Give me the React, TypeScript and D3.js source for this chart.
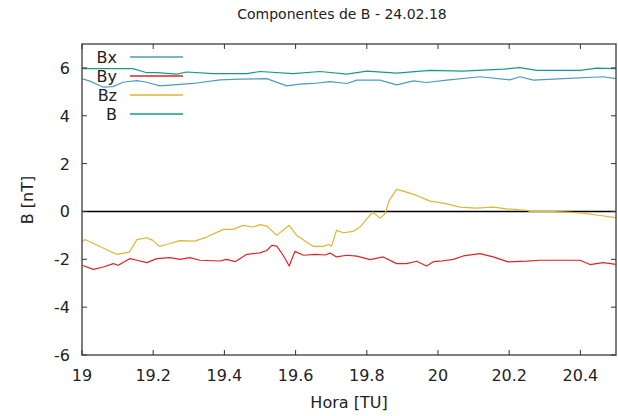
import { useEffect, useRef } from "react";
import * as d3 from "d3";

// [hour, nT] pairs
const bSeries: [number, number][] = [
  [19.0, 5.97], [19.143, 5.97], [19.182, 5.8], [19.21, 5.8], [19.266, 5.74],
  [19.294, 5.83], [19.368, 5.76], [19.463, 5.76], [19.5, 5.85], [19.593, 5.76],
  [19.669, 5.85], [19.744, 5.74], [19.8, 5.87], [19.884, 5.78], [19.978, 5.9],
  [20.07, 5.87], [20.183, 5.95], [20.23, 6.01], [20.277, 5.9], [20.399, 5.9],
  [20.446, 5.99], [20.5, 5.97],
];

const bxSeries: [number, number][] = [
  [19.0, 5.55], [19.022, 5.45], [19.059, 5.2], [19.087, 5.22], [19.115, 5.4],
  [19.154, 5.47], [19.182, 5.4], [19.219, 5.25], [19.266, 5.3], [19.312, 5.35],
  [19.388, 5.5], [19.444, 5.53], [19.519, 5.55], [19.575, 5.25], [19.612, 5.32],
  [19.649, 5.35], [19.697, 5.43], [19.744, 5.35], [19.772, 5.49], [19.837, 5.49],
  [19.884, 5.29], [19.931, 5.46], [19.968, 5.39], [20.024, 5.49], [20.118, 5.63],
  [20.202, 5.5], [20.23, 5.63], [20.268, 5.49], [20.352, 5.55], [20.464, 5.63],
  [20.5, 5.55],
];

const bySeries: [number, number][] = [
  [19.0, -2.25], [19.032, -2.42], [19.06, -2.32], [19.088, -2.18], [19.102, -2.25],
  [19.135, -1.97], [19.154, -2.04], [19.182, -2.14], [19.21, -1.97], [19.247, -1.93],
  [19.275, -2.0], [19.303, -1.93], [19.331, -2.04], [19.388, -2.07], [19.406, -2.0],
  [19.43, -2.1], [19.463, -1.79], [19.5, -1.73], [19.519, -1.63], [19.533, -1.42],
  [19.547, -1.45], [19.565, -1.83], [19.582, -2.28], [19.598, -1.67], [19.622, -1.83],
  [19.654, -1.79], [19.683, -1.82], [19.697, -1.74], [19.715, -1.9], [19.744, -1.83],
  [19.772, -1.87], [19.809, -2.01], [19.846, -1.9], [19.884, -2.18], [19.912, -2.18],
  [19.94, -2.08], [19.968, -2.28], [19.987, -2.1], [20.006, -2.08], [20.043, -2.0],
  [20.071, -1.86], [20.118, -1.76], [20.155, -1.9], [20.197, -2.11], [20.249, -2.08],
  [20.287, -2.04], [20.399, -2.04], [20.427, -2.22], [20.464, -2.14], [20.5, -2.21],
];

const bzSeries: [number, number][] = [
  [19.0, -1.28], [19.008, -1.17], [19.097, -1.79], [19.133, -1.7], [19.154, -1.18],
  [19.182, -1.1], [19.199, -1.21], [19.217, -1.46], [19.238, -1.38], [19.275, -1.22],
  [19.317, -1.24], [19.35, -1.07], [19.397, -0.75], [19.425, -0.75], [19.453, -0.58],
  [19.481, -0.65], [19.5, -0.55], [19.519, -0.61], [19.547, -1.0], [19.582, -0.58],
  [19.603, -1.0], [19.65, -1.46], [19.678, -1.46], [19.692, -1.38], [19.701, -1.45],
  [19.715, -0.79], [19.734, -0.89], [19.762, -0.83], [19.781, -0.65], [19.8, -0.31],
  [19.817, -0.03], [19.837, -0.28], [19.851, -0.1], [19.863, 0.46], [19.884, 0.92],
  [19.903, 0.85], [19.94, 0.67], [19.978, 0.43], [20.006, 0.37], [20.024, 0.32],
  [20.062, 0.18], [20.109, 0.14], [20.155, 0.18], [20.193, 0.11], [20.249, 0.05],
  [20.258, 0.0], [20.305, 0.0], [20.361, -0.03], [20.408, -0.07], [20.455, -0.17],
  [20.5, -0.26],
];

const xTicks = [19, 19.2, 19.4, 19.6, 19.8, 20, 20.2, 20.4];
const yTicks = [-6, -4, -2, 0, 2, 4, 6];

const legendNames = ["Bx", "By", "Bz", "B"];
const legendColors = ["#4d9cbf", "#e02424", "#e2b531", "#159c88"];

const App = () => {
  const svgRef = useRef<SVGSVGElement>(null);

  useEffect(() => {
    document.body.style.margin = "0";
    if (!svgRef.current) return;
    d3.select(svgRef.current).selectAll("*").remove();

    const width = 618;
    const height = 416;
    const left = 82, right = 616, top = 44, bottom = 355;
    const font = "DejaVu Sans, Verdana, sans-serif";

    const svg = d3.select(svgRef.current)
      .attr("width", width)
      .attr("height", height)
      .style("display", "block")
      .style("background", "#fff");

    const x = d3.scaleLinear().domain([19, 20.5]).range([left, right]);
    const y = d3.scaleLinear().domain([-6, 7]).range([bottom, top]);

    // title
    svg.append("text")
      .attr("x", 342)
      .attr("y", 19)
      .attr("text-anchor", "middle")
      .style("font-family", font)
      .style("font-size", "14px")
      .style("fill", "#222")
      .text("Componentes de B - 24.02.18");

    // zero line
    svg.append("line")
      .attr("x1", left).attr("x2", right)
      .attr("y1", y(0)).attr("y2", y(0))
      .attr("stroke", "#000")
      .attr("stroke-width", 1.6);

    // series
    const line = d3.line<[number, number]>()
      .x(d => x(d[0]))
      .y(d => y(d[1]));

    const series = [bxSeries, bySeries, bzSeries, bSeries];
    series.forEach((s, i) => {
      svg.append("path")
        .attr("d", line(s))
        .attr("fill", "none")
        .attr("stroke", legendColors[i])
        .attr("stroke-width", 1.2)
        .attr("stroke-linejoin", "round");
    });

    // frame
    svg.append("rect")
      .attr("x", left).attr("y", top)
      .attr("width", right - left).attr("height", bottom - top)
      .attr("fill", "none")
      .attr("stroke", "#555")
      .attr("stroke-width", 1.5);

    // ticks (inside, mirrored)
    const tickLen = 5;
    xTicks.forEach(t => {
      svg.append("line")
        .attr("x1", x(t)).attr("x2", x(t))
        .attr("y1", bottom).attr("y2", bottom - tickLen)
        .attr("stroke", "#333");
      svg.append("line")
        .attr("x1", x(t)).attr("x2", x(t))
        .attr("y1", top).attr("y2", top + tickLen)
        .attr("stroke", "#333");
      svg.append("text")
        .attr("x", x(t))
        .attr("y", 381)
        .attr("text-anchor", "middle")
        .style("font-family", font)
        .style("font-size", "16px")
        .style("fill", "#222")
        .text(String(t));
    });

    yTicks.forEach(v => {
      svg.append("line")
        .attr("x1", left).attr("x2", left + tickLen)
        .attr("y1", y(v)).attr("y2", y(v))
        .attr("stroke", "#333");
      svg.append("line")
        .attr("x1", right).attr("x2", right - tickLen)
        .attr("y1", y(v)).attr("y2", y(v))
        .attr("stroke", "#333");
      svg.append("text")
        .attr("x", 70)
        .attr("y", y(v) + 6)
        .attr("text-anchor", "end")
        .style("font-family", font)
        .style("font-size", "16px")
        .style("fill", "#222")
        .text(String(v));
    });

    // axis labels
    svg.append("text")
      .attr("x", 349)
      .attr("y", 408)
      .attr("text-anchor", "middle")
      .style("font-family", font)
      .style("font-size", "16px")
      .style("fill", "#222")
      .text("Hora [TU]");

    svg.append("text")
      .attr("transform", "rotate(-90)")
      .attr("x", -200)
      .attr("y", 33)
      .attr("text-anchor", "middle")
      .style("font-family", font)
      .style("font-size", "16px")
      .style("fill", "#222")
      .text("B [nT]");

    // legend
    legendNames.forEach((name, i) => {
      const ly = 57 + i * 19;
      svg.append("text")
        .attr("x", 117)
        .attr("y", ly + 6)
        .attr("text-anchor", "end")
        .style("font-family", font)
        .style("font-size", "16px")
        .style("fill", "#222")
        .text(name);
      svg.append("line")
        .attr("x1", 130).attr("x2", 183)
        .attr("y1", ly).attr("y2", ly)
        .attr("stroke", legendColors[i])
        .attr("stroke-width", 1.3);
    });
  }, []);

  return <svg ref={svgRef}></svg>;
};

export default App;
